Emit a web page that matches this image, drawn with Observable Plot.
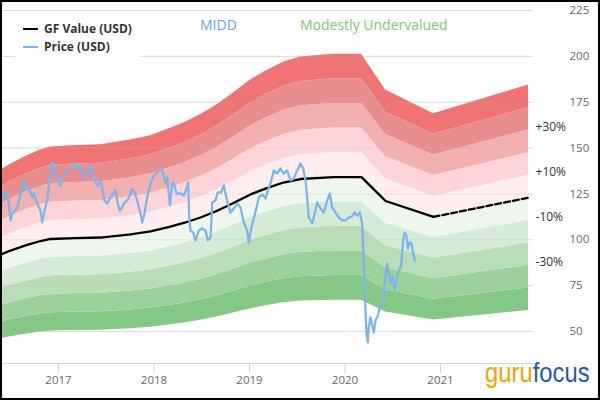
<!DOCTYPE html>
<html>
<head>
<meta charset="utf-8">
<script src="https://cdn.jsdelivr.net/npm/d3@7"></script>
<script src="https://cdn.jsdelivr.net/npm/@observablehq/plot@0.6"></script>
<style>
  html, body { margin: 0; padding: 0; background: #fff; }
  #wrap { position: relative; width: 600px; height: 420px; font-family: "Open Sans", sans-serif; overflow: hidden; }
  #wrap svg { position: absolute; left: 0; top: 0; }
  .abs { position: absolute; white-space: nowrap; }
</style>
</head>
<body>
<div id="wrap"></div>
<script>
// ---- Data ----
const gfYears  = [2016.393, 2016.498, 2016.655, 2016.812, 2016.917, 2017.178, 2017.440, 2017.754, 2017.964, 2018.173, 2018.330, 2018.487, 2018.644, 2018.801, 2019.011, 2019.168, 2019.356, 2019.534, 2019.880, 2020.173, 2020.425, 2020.927, 2021.922];
const gfValues = [91.9, 94.1, 96.9, 99.3, 100.4, 100.9, 101.2, 102.9, 104.5, 107.2, 109.4, 112.1, 115.4, 119.2, 124.7, 127.9, 131.2, 133.1, 134.1, 134.1, 121.1, 112.5, 122.9];
const gfEstimateFrom = 2020.927; // dashed (projected) part starts here

const priceYears = [2016.393,2016.428,2016.456,2016.480,2016.498,2016.516,2016.550,2016.581,2016.610,2016.631,2016.655,2016.686,2016.725,2016.742,2016.777,2016.812,2016.830,2016.854,2016.882,2016.909,2016.934,2016.958,2016.979,2017.003,2017.021,2017.039,2017.074,2017.108,2017.133,2017.168,2017.202,2017.231,2017.259,2017.283,2017.307,2017.335,2017.364,2017.388,2017.412,2017.440,2017.458,2017.482,2017.510,2017.545,2017.573,2017.597,2017.621,2017.642,2017.667,2017.691,2017.720,2017.747,2017.772,2017.796,2017.824,2017.859,2017.877,2017.901,2017.929,2017.964,2017.998,2018.034,2018.068,2018.097,2018.121,2018.139,2018.166,2018.191,2018.208,2018.236,2018.278,2018.312,2018.341,2018.358,2018.369,2018.382,2018.411,2018.435,2018.469,2018.505,2018.540,2018.564,2018.592,2018.610,2018.644,2018.668,2018.704,2018.731,2018.759,2018.773,2018.801,2018.836,2018.871,2018.906,2018.941,2018.976,2018.993,2019.018,2019.045,2019.074,2019.098,2019.133,2019.168,2019.192,2019.220,2019.255,2019.290,2019.325,2019.359,2019.395,2019.430,2019.464,2019.500,2019.534,2019.563,2019.587,2019.604,2019.621,2019.657,2019.691,2019.709,2019.744,2019.778,2019.814,2019.841,2019.866,2019.901,2019.935,2019.971,2020.006,2020.040,2020.076,2020.100,2020.128,2020.155,2020.180,2020.191,2020.205,2020.215,2020.225,2020.239,2020.249,2020.267,2020.285,2020.302,2020.320,2020.344,2020.365,2020.390,2020.407,2020.424,2020.442,2020.459,2020.477,2020.501,2020.519,2020.536,2020.564,2020.589,2020.606,2020.623,2020.644,2020.658,2020.679,2020.697,2020.714,2020.731];
const priceValues = [119.2,125.2,125.8,119.8,110.5,114.3,115.9,119.8,126.8,132.3,127.4,128.5,123.0,125.2,119.8,115.9,109.4,115.9,121.4,133.9,142.1,139.4,133.9,130.7,129.6,133.9,136.1,137.8,139.4,141.6,138.8,140.5,135.0,133.9,136.7,140.5,135.0,131.2,129.6,132.3,127.9,121.4,119.8,123.0,125.2,126.8,119.8,115.9,117.6,120.3,121.4,124.1,127.9,126.3,121.4,114.3,109.4,114.3,123.0,130.7,135.0,136.7,138.8,136.1,130.7,133.9,118.7,130.7,130.7,125.2,125.2,124.1,127.9,131.2,112.1,105.0,103.9,99.6,105.0,106.1,105.0,99.6,101.2,120.3,121.4,125.8,125.8,129.6,123.0,119.8,114.8,117.0,119.8,117.6,109.4,105.0,98.5,106.1,111.6,117.6,123.0,124.7,122.5,126.8,130.7,137.8,136.1,138.8,136.1,137.8,132.3,133.4,137.8,141.6,138.8,132.3,123.0,112.1,108.9,115.9,120.3,117.0,114.8,121.4,125.2,117.6,114.8,112.1,110.5,110.5,112.1,112.7,114.8,113.2,114.8,108.9,95.2,76.1,61.4,48.9,44.0,52.1,57.6,53.2,49.4,56.0,58.7,63.0,65.2,72.3,79.4,87.0,82.1,76.7,79.4,72.3,77.8,83.2,85.9,97.9,103.9,102.3,95.2,98.5,97.9,92.5,88.7];

// band boundaries as multiples of the GF Value, bottom to top
const bandRatios = [0.5, 0.6, 0.7, 0.8, 0.9, 1.0, 1.1, 1.2, 1.3, 1.4, 1.5];
const bandColors = ["#85c785", "#9cd19b", "#b8ddb7", "#d6ebd5", "#eef6ee", "#ffedef", "#fdd5d9", "#f2b0b0", "#e88e8e", "#f07474"];
const pctLabels = ["+30%", "+10%", "-10%", "-30%"];
const pctRatios = [1.3, 1.1, 0.9, 0.7];
const yTicks = [50, 75, 100, 125, 150, 175, 200, 225];
const xTicks = [2017, 2018, 2019, 2020, 2021];
const xDomain = [2016.393, 2021.974];
const yDomain = [32.5, 225];

const titleTicker = "MIDD";
const titleStatus = "Modestly Undervalued";
const legendLabels = ["GF Value (USD)", "Price (USD)"];

// ---- Tables built from the arrays ----
const gf = gfYears.map((year, i) => ({year, gf: gfValues[i]}));
const gfSolid = gf.filter(d => d.year <= gfEstimateFrom);
const gfDashed = gf.filter(d => d.year >= gfEstimateFrom);
const price = priceYears.map((year, i) => ({year, price: priceValues[i]}));
const last = gf[gf.length - 1];

const bandMarks = bandColors.map((c, i) => Plot.areaY(gf, {
  x: "year",
  y1: d => d.gf * bandRatios[i],
  y2: d => d.gf * bandRatios[i + 1],
  fill: c
}));

const chart = Plot.plot({
  width: 600,
  height: 400,
  marginLeft: 0,
  marginRight: 67,
  marginTop: 10,
  marginBottom: 37,
  style: {fontFamily: "Open Sans, sans-serif", background: "transparent", overflow: "visible"},
  x: {domain: xDomain, label: null},
  y: {domain: yDomain, label: null},
  marks: [
    Plot.gridY(yTicks, {stroke: "#e6e6e6", strokeOpacity: 1}),
    ...bandMarks,
    Plot.gridY(yTicks, {stroke: "#bbbbbb", strokeOpacity: 0.25}),
    Plot.ruleY([yDomain[0]], {stroke: "#ccd6eb"}),
    Plot.axisX(xTicks, {label: null, tickSize: 10, tickPadding: 2, stroke: "#ccd6eb", fill: "#666", fontSize: 11.5, tickFormat: d => String(d)}),
    Plot.axisY(yTicks, {label: null, anchor: "right", tickSize: 0, tickPadding: 36, fill: "#666", fontSize: 11.5, textAnchor: "start"}),
    Plot.line(gfSolid, {x: "year", y: "gf", stroke: "#000", strokeWidth: 2.3}),
    Plot.line(gfDashed, {x: "year", y: "gf", stroke: "#000", strokeWidth: 2.3, strokeDasharray: "6,3"}),
    Plot.line(price, {x: "year", y: "price", stroke: "#7cb5ec", strokeWidth: 2.3}),
    Plot.text(pctRatios, {x: () => last.year, y: r => last.gf * r, text: (r, i) => pctLabels[i], textAnchor: "start", dx: 7, dy: -3, fontSize: 12, fill: "#333"})
  ]
});

const wrap = document.getElementById("wrap");
wrap.appendChild(chart);

function addDiv(style, html) {
  const el = document.createElement("div");
  el.className = "abs";
  Object.assign(el.style, style);
  if (html != null) el.innerHTML = html;
  wrap.appendChild(el);
  return el;
}
// legend box
addDiv({left: "15px", top: "12px", width: "126px", height: "45px", background: "#fff"});
addDiv({left: "23px", top: "28px", width: "15px", height: "2px", background: "#000"});
addDiv({left: "23px", top: "46px", width: "15px", height: "2px", background: "#7cb5ec"});
addDiv({left: "44px", top: "21px", fontSize: "12px", lineHeight: "16px", fontWeight: "bold", color: "#333"}).textContent = legendLabels[0];
addDiv({left: "44px", top: "39px", fontSize: "12px", lineHeight: "16px", fontWeight: "bold", color: "#333"}).textContent = legendLabels[1];
// titles
addDiv({left: "200px", top: "15px", fontSize: "14px", lineHeight: "20px", color: "#5fa5ef"}).textContent = titleTicker;
addDiv({left: "300px", top: "15px", fontSize: "14px", lineHeight: "20px", color: "#7dc86e"}).textContent = titleStatus;
// logo
const logo = addDiv({left: "485px", top: "359px", fontSize: "28px", lineHeight: "28px", fontFamily: "'Liberation Sans Narrow', 'Liberation Sans', sans-serif", transform: "scaleX(0.85)", transformOrigin: "left top"});
logo.innerHTML = '<span style="color:#f5a300">guru</span><span style="color:#1f5ca6">focus</span>';
// outer frame
addDiv({left: "0px", top: "0px", width: "600px", height: "400px", border: "2px solid #000", boxSizing: "border-box"});
</script>
</body>
</html>
